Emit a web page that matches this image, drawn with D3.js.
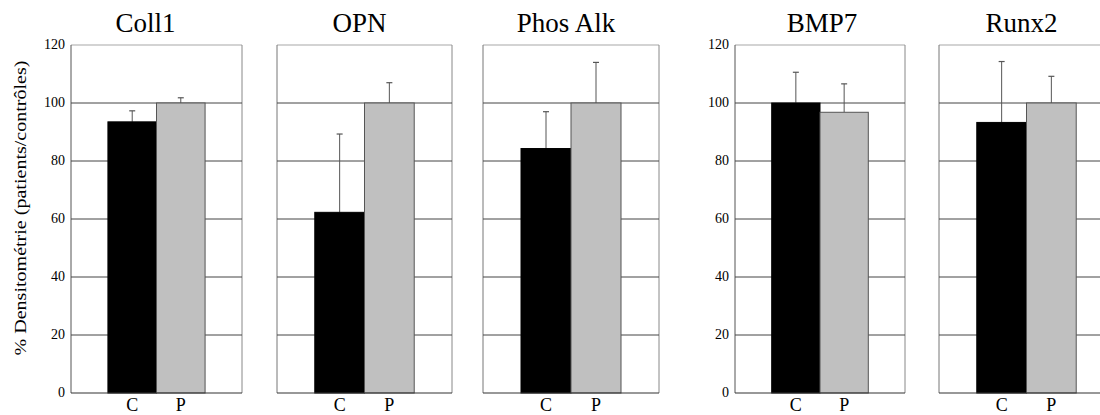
<!DOCTYPE html>
<html><head><meta charset="utf-8">
<script src="https://cdn.jsdelivr.net/npm/d3@7"></script>
</head><body style="margin:0">
<svg id="chart" width="1100" height="415" style="display:block;font-family:'Liberation Serif'"></svg>
<script>
// ---- data ----
const categories = ["Coll1", "OPN", "Phos Alk", "BMP7", "Runx2"];
const groups = ["C", "P"];
const valuesC = [93.5, 62.3, 84.3, 100, 93.3];
const valuesP = [100, 100, 100, 96.8, 100];
const errC = [3.8, 27, 12.7, 10.6, 21];
const errP = [1.8, 7, 14, 9.8, 9.2];
const yTicks = [0, 20, 40, 60, 80, 100, 120];
const yLabel = "% Densitométrie (patients/contrôles)";
const showAxis = [true, false, false, true, false];

// ---- layout ----
const panelX = [71, 277, 483, 735, 939];
const panelW = [171, 175, 176, 170, 175];
const titleShift = [-11, -5, -5, 2, -5];
const plotTop = 45, plotBottom = 393;
const colors = {C: "#000000", P: "#c0c0c0"};
const strokes = {C: "#000000", P: "#555555"};

const svg = d3.select("#chart");
const y = d3.scaleLinear().domain([0, 120]).range([plotBottom, plotTop]);

categories.forEach((cat, i) => {
  const g = svg.append("g").attr("transform", `translate(${panelX[i]},0)`);
  const w = panelW[i];
  const x = d3.scaleBand().domain(groups).range([0, w]).paddingInner(0).paddingOuter(0.76);

  // frame
  g.append("line").attr("x1", 0).attr("x2", w).attr("y1", y(120)).attr("y2", y(120))
    .attr("stroke", "#a8a8a8").attr("stroke-width", 1.2);
  g.append("line").attr("x1", w).attr("x2", w).attr("y1", y(120)).attr("y2", y(0))
    .attr("stroke", "#888").attr("stroke-width", 1);
  g.append("line").attr("x1", 0).attr("x2", 0).attr("y1", y(120)).attr("y2", y(0))
    .attr("stroke", i === 0 || i === 3 ? "#555" : "#777").attr("stroke-width", 1);

  // gridlines
  g.selectAll("line.grid").data(yTicks.filter(t => t > 0 && t < 120)).enter()
    .append("line").attr("class", "grid")
    .attr("x1", 0).attr("x2", w).attr("y1", d => y(d)).attr("y2", d => y(d))
    .attr("stroke", "#444").attr("stroke-width", 1);

  const vals = [valuesC[i], valuesP[i]];
  const errs = [errC[i], errP[i]];
  const data = groups.map((k, j) => ({k, v: vals[j], e: errs[j]}));

  // error bars
  data.forEach(d => {
    const cx = x(d.k) + x.bandwidth() / 2;
    g.append("line").attr("x1", cx).attr("x2", cx).attr("y1", y(d.v)).attr("y2", y(d.v + d.e))
      .attr("stroke", "#555").attr("stroke-width", 1);
    g.append("line").attr("x1", cx - 3).attr("x2", cx + 3).attr("y1", y(d.v + d.e)).attr("y2", y(d.v + d.e))
      .attr("stroke", "#555").attr("stroke-width", 1.2);
  });

  // bars
  g.selectAll("rect.bar").data(data).enter().append("rect").attr("class", "bar")
    .attr("x", d => x(d.k)).attr("width", x.bandwidth())
    .attr("y", d => y(d.v)).attr("height", d => y(0) - y(d.v))
    .attr("fill", d => colors[d.k]).attr("stroke", d => strokes[d.k]).attr("stroke-width", 1);

  // baseline
  g.append("line").attr("x1", 0).attr("x2", w).attr("y1", y(0)).attr("y2", y(0))
    .attr("stroke", "#333").attr("stroke-width", 1.2);

  // x labels
  g.selectAll("text.xl").data(groups).enter().append("text").attr("class", "xl")
    .attr("x", d => x(d) + x.bandwidth() / 2).attr("y", 411)
    .attr("text-anchor", "middle")
    .style("font-family", '"Liberation Serif"').style("font-size", "18px")
    .text(d => d);

  // title
  g.append("text").attr("x", w / 2 + titleShift[i]).attr("y", 32)
    .attr("text-anchor", "middle")
    .style("font-family", '"Liberation Serif"').style("font-size", "27px")
    .text(cat);

  // y tick labels from the y scale
  if (showAxis[i]) {
    g.selectAll("text.yt").data(y.ticks(6)).enter().append("text").attr("class", "yt")
      .attr("x", -6).attr("y", d => y(d)).attr("dy", "0.32em")
      .attr("text-anchor", "end")
      .style("font-family", '"Liberation Serif"').style("font-size", "14px")
      .text(d => d);
  }
});

// y-axis title
svg.append("text")
  .attr("transform", "translate(20,208) rotate(-90) scale(1.18,1)")
  .attr("text-anchor", "middle").attr("dominant-baseline", "central")
  .style("font-family", '"Liberation Serif"').style("font-size", "17px")
  .text(yLabel);
</script>
</body></html>
